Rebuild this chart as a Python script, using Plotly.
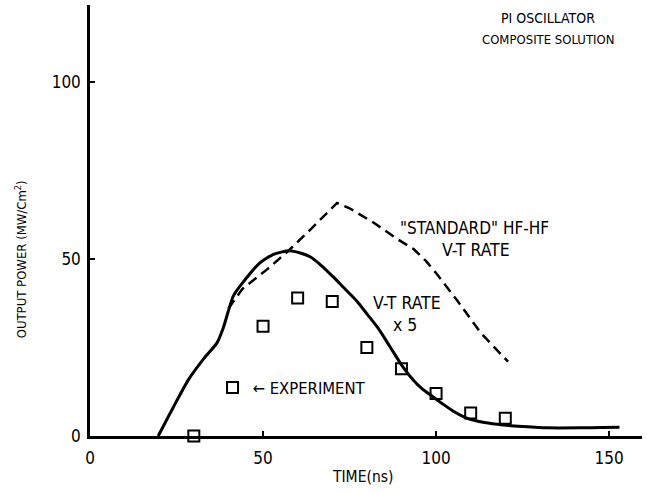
import plotly.graph_objects as go

# Measured output power (squares)
exp_time = [30, 50, 60, 70, 80, 90, 100, 110, 120]
exp_power = [0, 31, 39, 38, 25, 19, 12, 6.5, 5]

# Composite solution with V-T rate x 5 (solid)
vt5_time = [19.7, 24, 28.5, 33, 36.7, 38.5, 41.4, 44.3, 49, 53, 57.5, 61, 63.6,
            67, 70.2, 73.5, 77.2, 80, 83, 86.5, 90.2, 93.4, 96, 98.5, 102, 105,
            109, 114, 119.4, 125, 132, 141.6, 148, 153]
vt5_power = [0, 8, 16, 22, 26.3, 30.5, 39.5, 43.5, 48.8, 51.3, 52.3, 51.6, 50.6,
             48, 45, 41.7, 38, 34.5, 30.8, 25.5, 19.8, 15.8, 13.3, 11.5, 9, 7,
             5, 3.8, 3.1, 2.7, 2.3, 2.3, 2.4, 2.5]

# Composite solution with standard HF-HF V-T rate (dashed)
std_time = [40, 44, 51, 57, 63.6, 69.4, 71.4, 75, 82, 89, 93.5, 97, 100, 106, 113, 120.8]
std_power = [36, 41.5, 46.9, 52, 58.2, 63.8, 65.8, 64.3, 60.2, 55.5, 52.8, 49.5, 46, 38.4, 29, 21]

x_ticks = [0, 50, 100, 150]
y_ticks = [0, 50, 100]

FONT = "Liberation Sans Narrow, DejaVu Sans Condensed, Arial Narrow, sans-serif"

fig = go.Figure()
fig.add_trace(go.Scatter(x=std_time, y=std_power, mode="lines",
                         line=dict(color="black", width=2.5, dash="10px,6px"),
                         showlegend=False))
fig.add_trace(go.Scatter(x=vt5_time, y=vt5_power, mode="lines",
                         line=dict(color="black", width=3, shape="spline", smoothing=0.6),
                         showlegend=False))
fig.add_trace(go.Scatter(x=exp_time, y=exp_power, mode="markers", name="\u2190 EXPERIMENT",
                         marker=dict(symbol="square-open", size=11, color="black",
                                     line=dict(width=2, color="black")),
                         cliponaxis=False, showlegend=True))


def label(text, x, y, size):
    return dict(text=text, x=x, y=y, xref="x", yref="y", showarrow=False,
                font=dict(family=FONT, size=size, color="black"),
                xanchor="center", yanchor="middle")


annotations = [
    label("PI OSCILLATOR", 132.4, 118.1, 14),
    label("COMPOSITE SOLUTION", 132.4, 111.9, 13),
    label("\"STANDARD\" HF-HF", 111.0, 58.8, 17),
    label("V-T RATE", 111.6, 52.5, 17.5),
    label("V-T RATE", 91.6, 37.6, 17.5),
    label("x 5", 91.0, 31.4, 17.5),
    dict(text="TIME(ns)", x=78.6, y=-0.095, xref="x", yref="paper",
         xanchor="center", yanchor="middle", showarrow=False,
         font=dict(family=FONT, size=15.5, color="black")),
    dict(text="OUTPUT POWER (MW/Cm<sup>2</sup>)", x=-0.125, y=0.41,
         xref="paper", yref="paper", xanchor="center", yanchor="middle",
         textangle=-90, showarrow=False,
         font=dict(family=FONT, size=13, color="black")),
]

axis_common = dict(showgrid=False, zeroline=False, showline=True, linecolor="black",
                   linewidth=2.5, ticks="inside", ticklen=5, tickwidth=2, tickcolor="black",
                   tickfont=dict(family=FONT, size=17, color="black"))

fig.update_layout(
    width=647, height=493,
    margin=dict(l=90, r=5, t=5, b=57),
    paper_bgcolor="white", plot_bgcolor="white",
    xaxis=dict(range=[0, 159.5], tickvals=x_ticks, ticklabelstandoff=5, **axis_common),
    yaxis=dict(range=[0, 121.7], tickvals=y_ticks, ticklabelstandoff=3, **axis_common),
    legend=dict(x=0.222, y=0.112, xanchor="left", yanchor="middle", bgcolor="rgba(0,0,0,0)",
                font=dict(family=FONT, size=16.5, color="black"), itemwidth=30),
    annotations=annotations,
)

fig.write_html("out.html")
